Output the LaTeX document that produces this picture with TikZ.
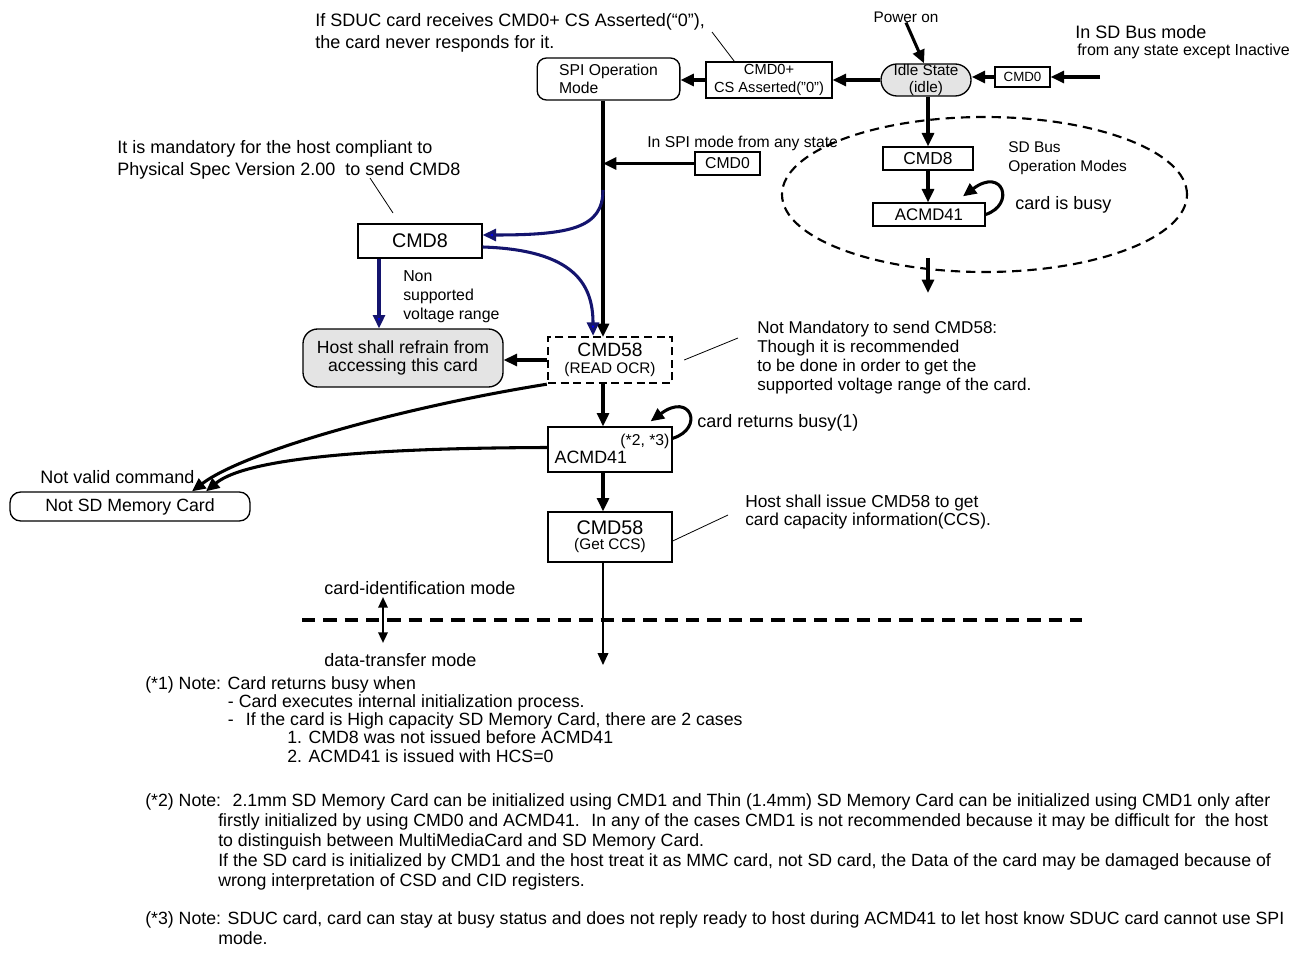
\documentclass[tikz,border=0pt]{standalone}
\usepackage{fontspec}
\setmainfont{Liberation Sans}
\usepackage{tikz}
\usetikzlibrary{arrows.meta, positioning, shapes.geometric, shapes.misc, calc}

\definecolor{idlegray}{RGB}{228,228,228}
\definecolor{navyline}{RGB}{20,20,110}

\begin{document}
\begin{tikzpicture}[
    x=0.75pt, y=-0.75pt,
    box/.style={
        rectangle, draw=black, line width=1pt, inner sep=0pt,
        align=center, font=\fontsize{11}{13.5}\selectfont
    },
    roundbox/.style={box, rounded corners=7pt},
    pillbox/.style={box, rounded rectangle, fill=idlegray},
    dashbox/.style={box, dash pattern=on 6pt off 3.5pt, line width=1.8pt},
    note/.style={inner sep=0pt, align=left, font=\fontsize{13.5}{16.5}\selectfont},
    arrow/.style={-{Triangle[length=10pt,width=9pt]}, line width=2.3pt},
    bluearrow/.style={-{Triangle[length=10pt,width=9pt,fill=blue]}, line width=2.3pt, draw=navyline},
    thinarrow/.style={-{Triangle[length=9pt,width=8pt]}, line width=1.2pt},
    dblarrow/.style={{Triangle[length=8pt,width=7pt]}-{Triangle[length=8pt,width=7pt]}, line width=1.7pt},
    leader/.style={line width=0.6pt}
]
\useasboundingbox (0,0) rectangle (1294,955);

% Entry: power on, idle state and SPI operation mode
\node[roundbox, minimum width=107pt, minimum height=31.5pt, align=left,
      font=\fontsize{11.8}{13.5}\selectfont] (spi) at (608.5,79) {SPI Operation\\Mode};
\node[box, minimum width=94.5pt, minimum height=27pt] (cmdcs) at (769,80) {CMD0+\\CS Asserted("0")};
\node[pillbox, minimum width=57.75pt, minimum height=24pt,
      font=\fontsize{11.5}{12.75}\selectfont] (idle) at (926,80) {Idle State\\(idle)};
\node[box, minimum width=41.25pt, minimum height=15pt,
      font=\fontsize{10}{12}\selectfont] (cmdz) at (1022.5,77) {CMD0};
\coordinate (sdin) at (1100,77);

\node[note, font=\fontsize{11.5}{13}\selectfont] (poweron) at (906,17) {Power on};
\node[note, anchor=west] (sdbusmode) at (1075,32) {In SD Bus mode};
\node[note, anchor=west, font=\fontsize{12}{14}\selectfont] (anystate) at (1077,51) {from any state except Inactive};
\node[note, anchor=north west] (sducnote) at (315,13) {If SDUC card receives CMD0+ CS Asserted(“0”),\\the card never responds for it.};

\draw[arrow] (sdin) -- (cmdz.east);
\draw[arrow] (cmdz.west) -- (cmdz.west -| idle.east);
\draw[arrow] (idle.west) -- (cmdcs.east);
\draw[arrow] (cmdcs.west) -- (cmdcs.west -| spi.east);
\draw[arrow] (poweron.south) -- ($(idle.north)+(-2,0)$);
\coordinate (sducend) at (712,32);
\draw[leader] (sducend) -- ($(cmdcs.north west)+(29,0)$);

% SD bus operation modes
\node[ellipse, draw, dash pattern=on 7pt off 4.5pt, line width=1.6pt, inner sep=0pt,
      minimum width=303.75pt, minimum height=116.25pt] (sdmodes) at (984.5,194.5) {};
\node[box, minimum width=67.5pt, minimum height=17.25pt,
      font=\fontsize{13}{15}\selectfont] (sdcmd) at (928,158.5) {CMD8};
\node[box, minimum width=84pt, minimum height=17.25pt,
      font=\fontsize{12.6}{15}\selectfont] (sdacmd) at (929,214.5) {ACMD41};
\node[note, anchor=north west, font=\fontsize{11.6}{14.25}\selectfont] (sdlabel) at (1008,141) {SD Bus\\Operation Modes};
\node[note, anchor=west] (busy) at (1015,205) {card is busy};
\coordinate (sdtail) at (928,258);
\coordinate (sdhead) at (928,293);

\draw[arrow] (idle.south -| sdcmd.north) -- (sdcmd.north);
\draw[arrow] (sdcmd.south) -- (sdcmd.south |- sdacmd.north);
\draw[arrow] (sdacmd.east) .. controls +(30,-10) and +(40,-30) .. ($(sdacmd.north)+(34,-6)$);
\draw[arrow] (sdtail) -- (sdhead);

% SPI spine
\coordinate (col) at (603,0);
\node[note, anchor=west, font=\fontsize{11.8}{14}\selectfont] (spiany) at (647,143) {In SPI mode from any state};
\node[box, minimum width=48.75pt, minimum height=17.25pt,
      font=\fontsize{11.8}{14}\selectfont] (cmdspi) at (727.5,163.5) {CMD0};
\draw[arrow] (spi.south -| col) -- (col |- 0,337);
\draw[arrow] (cmdspi.west) -- (cmdspi.west -| col);

% CMD8 branch
\node[note, anchor=north west] (mandnote) at (117,140) {It is mandatory for the host compliant to\\Physical Spec Version 2.00~ to send CMD8};
\node[box, minimum width=93pt, minimum height=25.5pt,
      font=\fontsize{14.8}{16}\selectfont] (cmdeight) at (420,241) {CMD8};
\node[note, anchor=north west, font=\fontsize{11.9}{14.25}\selectfont] (nonsup) at (403,270) {Non\\supported\\voltage range};
\node[box, rounded corners=11pt, fill=idlegray, minimum width=150pt, minimum height=43.5pt,
      font=\fontsize{13.2}{13.5}\selectfont] (refrain) at (403,358) {Host shall refrain from\\accessing this card};
\node[dashbox, minimum width=93pt, minimum height=34.5pt] (ocr) at (610,360)
      {{\fontsize{14.4}{15}\selectfont CMD58}\\[-1pt]{\fontsize{11.5}{12}\selectfont (READ OCR)}};
\node[note, anchor=north west, font=\fontsize{12.8}{14.25}\selectfont] (notmand) at (757,321)
      {Not Mandatory to send CMD58:\\Though it is recommended\\to be done in order to get the\\supported voltage range of the card.};

\coordinate (mandend) at (370,178);
\coordinate (mandtip) at (393,213);
\draw[leader] (mandend) -- (mandtip);
\coordinate (split) at (603,190);
\coordinate (nsfoot) at ($(cmdeight.south)+(-41,0)$);
\draw[bluearrow] (split) .. controls (603,228) and (570,235) .. ($(cmdeight.east)+(0,-6)$);
\draw[bluearrow] ($(cmdeight.east)+(0,6)$) .. controls (575,250) and (593,285) .. ($(ocr.north)+(-17,0)$);
\draw[bluearrow] (nsfoot) -- (nsfoot |- refrain.north);
\draw[arrow] (ocr.west) -- (ocr.west -| refrain.east);
\draw[leader] ($(ocr.east)+(11,0)$) -- ($(notmand.north west)+(-19,17)$);

% ACMD41 and capacity check
\node[box, minimum width=93pt, minimum height=33.75pt] (acmd) at (610,449.5) {};
\node[note, anchor=north east, font=\fontsize{11.8}{13}\selectfont] (acmdref) at ($(acmd.north east)+(-3,7)$) {(*2, *3)};
\node[note, anchor=south west, font=\fontsize{13.4}{15}\selectfont] (acmdtext) at ($(acmd.south west)+(7,-9)$) {ACMD41};
\node[note, anchor=west] (retbusy) at (697,423) {card returns busy(1)};
\node[box, minimum width=93pt, minimum height=37.5pt] (ccs) at (610,537)
      {{\fontsize{14.8}{15}\selectfont CMD58}\\[-2pt]{\fontsize{11.5}{12}\selectfont (Get CCS)}};
\node[note, anchor=north west, font=\fontsize{13}{13.5}\selectfont] (ccsnote) at (745,495)
      {Host shall issue CMD58 to get\\card capacity information(CCS).};

\draw[arrow] (ocr.south -| col) -- (acmd.north -| col);
\draw[arrow] ($(acmd.north east)+(0,12)$) .. controls +(32,-10) and +(40,-30) .. ($(acmd.north east)+(-22,-5)$);
\draw[arrow] (acmd.south -| col) -- (ccs.north -| col);
\draw[leader] ($(ccs.east)+(0,4)$) -- ($(ccsnote.north west)+(-17,20)$);

% Not SD memory card
\node[note, anchor=west] (notvalid) at (40,477) {Not valid command};
\node[box, rounded corners=8pt, minimum width=180pt, minimum height=21.75pt,
      font=\fontsize{13.3}{15}\selectfont] (notsd) at (130,506.5) {Not SD Memory Card};
\draw[arrow] (ocr.south west) .. controls (398,408) and (244,452) .. ($(notsd.north)+(62,0)$);
\draw[arrow] ($(acmd.west)+(0,-2)$) .. controls (400,448) and (250,455) .. ($(notsd.north)+(76,0)$);

% Mode boundary
\coordinate (sepl) at (302,620);
\coordinate (sepr) at (1082,620);
\coordinate (modeup) at (383,597);
\coordinate (modedn) at (383,643);
\coordinate (dataend) at (603,665);
\draw[dash pattern=on 10pt off 6pt, line width=3pt] (sepl) -- (sepr);
\node[note, anchor=west] (cardid) at (324,588) {card-identification mode};
\node[note, anchor=west] (datatr) at (324,660) {data-transfer mode};
\draw[dblarrow] (modeup) -- (modedn);
\draw[thinarrow] (ccs.south -| col) -- (dataend);

% Notes
\node[note, anchor=north west, font=\fontsize{13.3}{13.7}\selectfont] (noteone) at (145,676)
      {(*1) Note: Card returns busy when\\
       \hspace*{62pt}- Card executes internal initialization process.\\
       \hspace*{62pt}-\hspace{9pt}If the card is High capacity SD Memory Card, there are 2 cases\\
       \hspace*{106.5pt}1. CMD8 was not issued before ACMD41\\
       \hspace*{106.5pt}2. ACMD41 is issued with HCS=0};
\node[note, anchor=north west, font=\fontsize{13.3}{15}\selectfont] (notetwo) at (145,793)
      {(*2) Note:~ 2.1mm SD Memory Card can be initialized using CMD1 and Thin (1.4mm) SD Memory Card can be initialized using CMD1 only after\\
       \hspace*{54.75pt}firstly initialized by using CMD0 and ACMD41.~ In any of the cases CMD1 is not recommended because it may be difficult for~ the host\\
       \hspace*{54.75pt}to distinguish between MultiMediaCard and SD Memory Card.\\
       \hspace*{54.75pt}If the SD card is initialized by CMD1 and the host treat it as MMC card, not SD card, the Data of the card may be damaged because of\\
       \hspace*{54.75pt}wrong interpretation of CSD and CID registers.};
\node[note, anchor=north west, font=\fontsize{13.3}{15}\selectfont] (notethree) at (145,911)
      {(*3) Note: SDUC card, card can stay at busy status and does not reply ready to host during ACMD41 to let host know SDUC card cannot use SPI\\
       \hspace*{54.75pt}mode.};

\end{tikzpicture}
\end{document}
